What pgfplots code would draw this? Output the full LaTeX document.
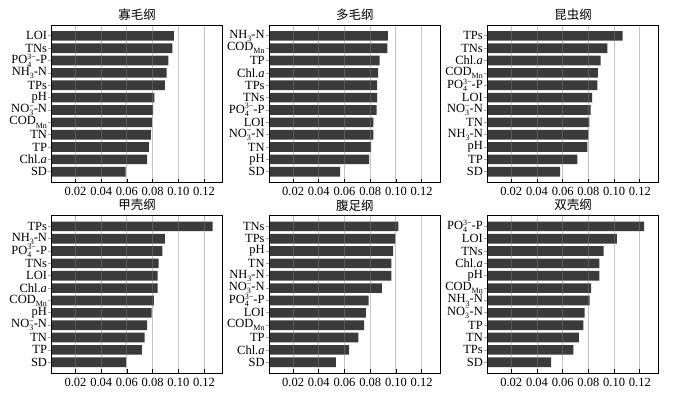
\documentclass[border=0pt]{standalone}
\usepackage{pgfplots}
\pgfplotsset{compat=1.18}
\usepackage{fontspec}
\setmainfont{Liberation Serif}
\newfontfamily\cjk{Noto Sans CJK SC}
\definecolor{barc}{HTML}{3A3A3A}
\definecolor{gridc}{HTML}{7F7F7F}
\newcommand\lfont{\fontsize{12.5}{14}\selectfont}
\newcommand\sfont{\fontsize{8}{8.5}\selectfont}
\newcommand\sub[1]{\raisebox{-0.25em}{\sfont #1}}
\newcommand\sups[1]{\raisebox{0.36em}{\sfont #1}}
\newcommand\subsup[2]{\makebox[0pt][l]{\sub{#1}}\sups{#2}}
\newcommand\NHN{NH\sub{3}-N}
\newcommand\COD{COD\sub{Mn}}
\newcommand\POP{PO\subsup{4}{3−}-P}
\newcommand\NON{NO\subsup{3}{−}-N}
\newcommand\Chl{Chl.\textit{a}}
\pgfplotsset{panel/.style={
  scale only axis, width=171pt, height=157.4pt,
  anchor=south west,
  xmin=0.0015, xmax=0.1345,
  ymin=0.13, ymax=12.87,
  xtick={0.02,0.04,0.06,0.08,0.1,0.12},
  xticklabels={0.02,0.04,0.06,0.08,0.10,0.12},
  ytick={1,2,3,4,5,6,7,8,9,10,11,12},
  tick align=inside, xtick pos=bottom, ytick pos=left,
  major tick length=3.5pt,
  axis on top,
  xmajorgrids, ymajorgrids=false,
  grid style={gridc, opacity=0.46, line width=0.9pt},
  axis line style={black, line width=0.7pt},
  xtick style={black, line width=0.8pt},
  ytick style={gridc, opacity=0.7, line width=0.7pt},
  ticklabel style={font=\lfont},
  xticklabel style={yshift=-1.2pt},
  yticklabel style={inner sep=1pt},
  title style={font=\cjk\lfont, yshift=-5pt},
  xbar, bar width=0.78, bar shift=0pt,
}}
\newcommand\panel[4]{%
\begin{axis}[panel, at={#1}, title={#2}, yticklabels={#3}]
\addplot[fill=barc, draw=none] coordinates {#4};
\end{axis}}
\begin{document}
\begin{tikzpicture}
\path[use as bounding box] (0,0) rectangle (680pt,393pt);
\panel{(51.7pt,210.5pt)}{寡毛纲}{SD,\Chl,TP,TN,\COD,\NON,pH,TPs,\NHN,\POP,TNs,LOI}
{(0.0966,12) (0.0953,11) (0.0922,10) (0.0909,9) (0.0896,8) (0.0813,7) (0.0803,6) (0.0797,5) (0.0787,4) (0.0771,3) (0.0758,2) (0.0590,1)}
\panel{(269.3pt,210.5pt)}{多毛纲}{SD,pH,TN,\NON,LOI,\POP,TNs,TPs,\Chl,TP,\COD,\NHN}
{(0.0938,12) (0.0933,11) (0.0874,10) (0.0861,9) (0.0853,8) (0.0853,7) (0.0850,6) (0.0825,5) (0.0825,4) (0.0806,3) (0.0791,2) (0.0566,1)}
\panel{(487.5pt,210.5pt)}{昆虫纲}{SD,TP,pH,\NHN,TN,\NON,LOI,\POP,\COD,\Chl,TNs,TPs}
{(0.1065,12) (0.0948,11) (0.0894,10) (0.0873,9) (0.0870,8) (0.0829,7) (0.0818,6) (0.0808,5) (0.0800,4) (0.0792,3) (0.0714,2) (0.0579,1)}
\panel{(51.7pt,20pt)}{甲壳纲}{SD,TP,TN,\NON,pH,\COD,\Chl,LOI,TNs,\POP,\NHN,TPs}
{(0.1266,12) (0.0896,11) (0.0875,10) (0.0846,9) (0.0839,8) (0.0839,7) (0.0810,6) (0.0792,5) (0.0758,4) (0.0737,3) (0.0716,2) (0.0594,1)}
\panel{(269.3pt,20pt)}{腹足纲}{SD,\Chl,TP,\COD,LOI,\POP,\NON,\NHN,TN,pH,TPs,TNs}
{(0.1018,12) (0.0995,11) (0.0979,10) (0.0964,9) (0.0964,8) (0.0891,7) (0.0788,6) (0.0767,5) (0.0752,4) (0.0708,3) (0.0636,2) (0.0532,1)}
\panel{(487.5pt,20pt)}{双壳纲}{SD,TPs,TN,TP,\NON,\NHN,\COD,pH,\Chl,TNs,LOI,\POP}
{(0.1234,12) (0.1021,11) (0.0919,10) (0.0886,9) (0.0886,8) (0.0821,7) (0.0810,6) (0.0771,5) (0.0761,4) (0.0725,3) (0.0683,2) (0.0509,1)}
\end{tikzpicture}
\end{document}
